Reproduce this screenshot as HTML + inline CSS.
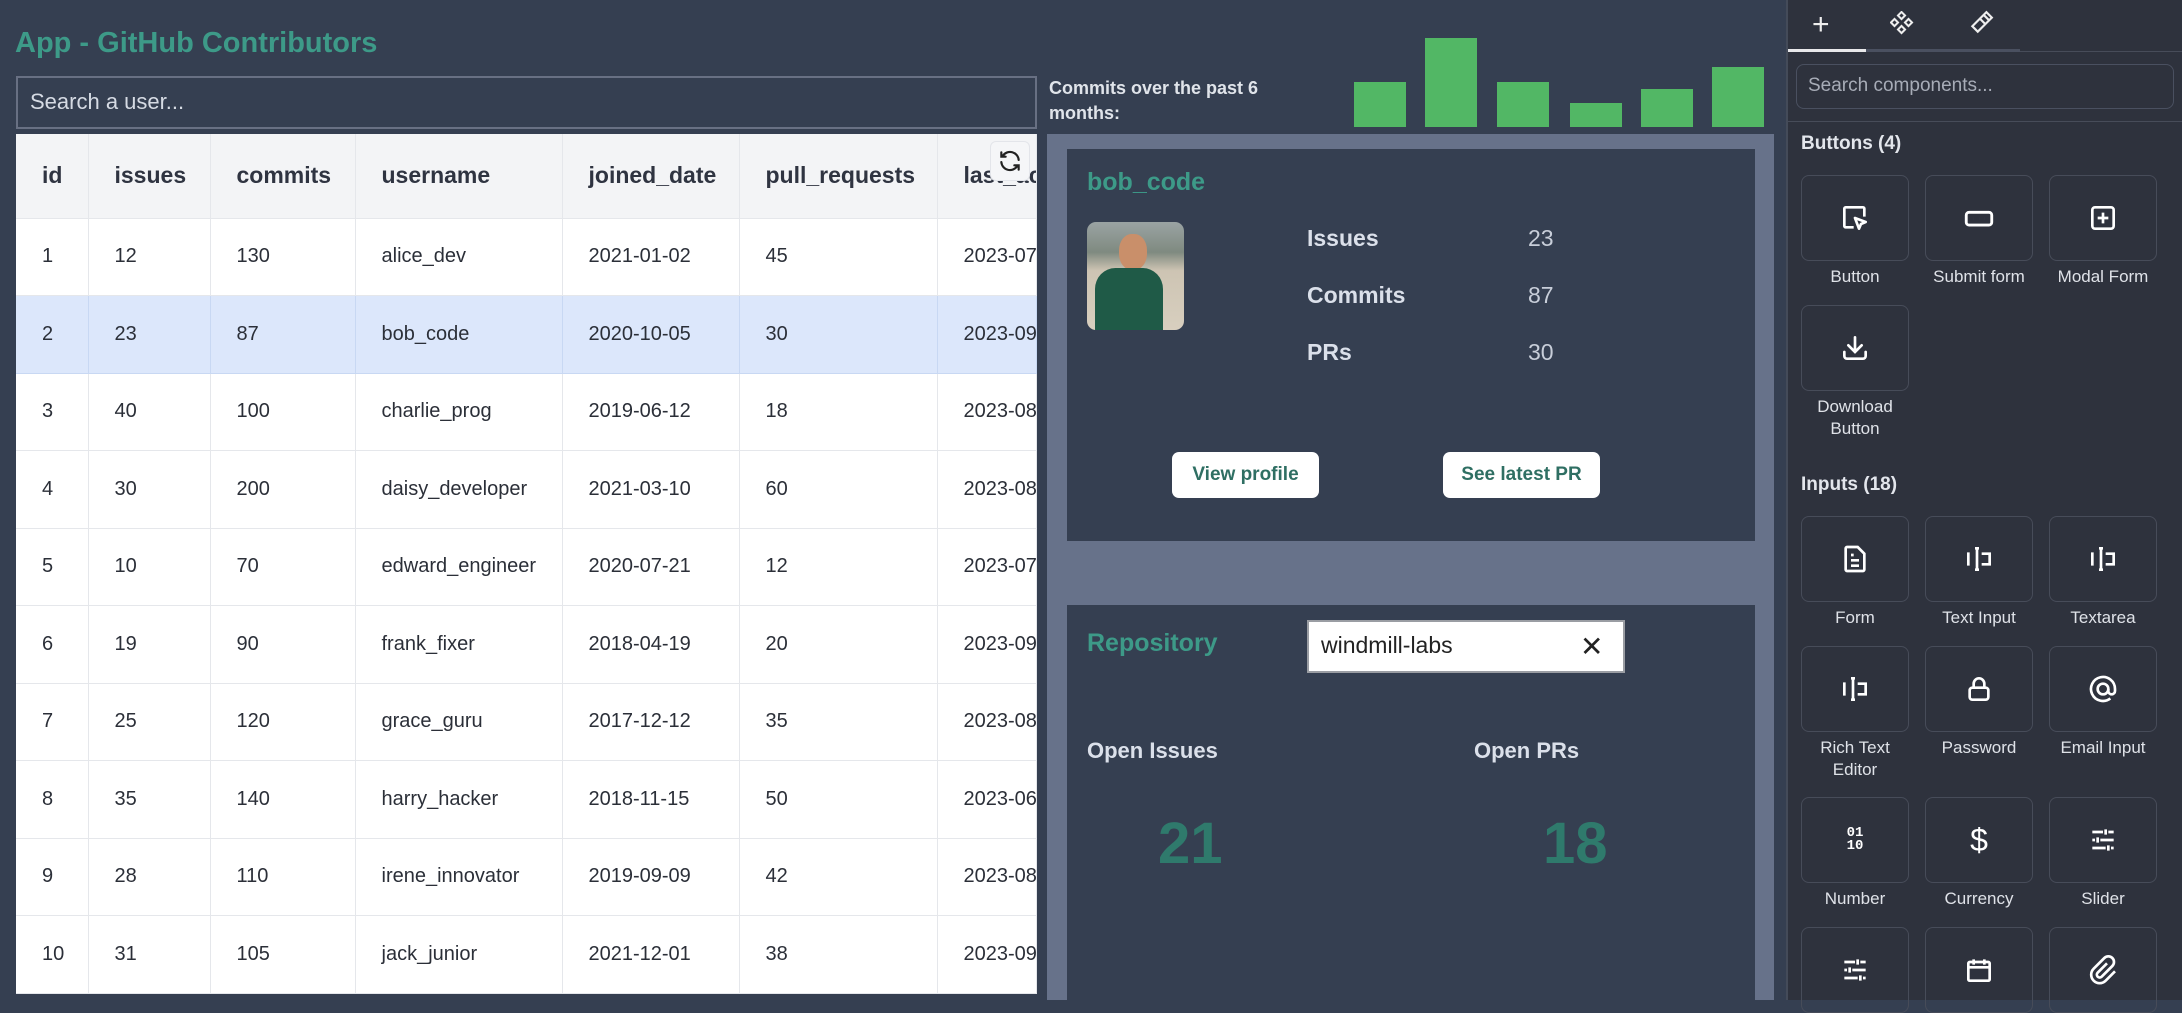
<!DOCTYPE html>
<html><head><meta charset="utf-8"><style>
*{box-sizing:border-box;margin:0;padding:0}
body{width:2182px;height:1000px;overflow:hidden;background:#353f51;font-family:"Liberation Sans",sans-serif;position:relative}
.a{position:absolute;white-space:nowrap}
table{border-collapse:collapse;position:absolute;left:16px;top:134px;width:1020px;background:#fff;table-layout:fixed}
td,th{border-right:1.5px solid #e5e7eb;border-bottom:1.5px solid #e5e7eb;text-align:left;padding-left:26px;color:#2b2f38;font-size:20px;font-weight:normal;overflow:hidden;white-space:nowrap}
th{height:84px;background:#f3f4f6;font-weight:bold;font-size:23px;color:#2f3441}
td{height:77.5px}
tr.sel td{background:#dce7fb;border-right-color:#c8d8f3;border-bottom-color:#c8d8f3}
.bar{position:absolute;background:#52b765;width:52px;bottom:873px}
.lbl{position:absolute;font-size:23px;font-weight:bold;color:#dbe0ea}
.val{position:absolute;font-size:23px;color:#c8ced9}
.btn{position:absolute;background:#fff;border-radius:7px;color:#2f6f63;font-weight:bold;font-size:19px;display:flex;align-items:center;justify-content:center;height:46px;top:452px}
.tile{position:absolute;width:108px;height:86px;border:1.5px solid #474c59;border-radius:8px;display:flex;align-items:center;justify-content:center}
.tl{position:absolute;width:140px;text-align:center;font-size:17px;color:#dfe2e8;line-height:22px}
.sh{position:absolute;left:1801px;font-size:19px;font-weight:bold;color:#e3e6ec}
svg{display:block}
</style></head><body>
<div class="a" style="left:15px;top:27px;font-size:29px;font-weight:bold;color:#3d9a88">App - GitHub Contributors</div>
<div class="a" style="left:16px;top:76px;width:1021px;height:53px;border:2px solid #687083;"></div>
<div class="a" style="left:30px;top:89px;font-size:22px;color:#d6dbe4">Search a user...</div>
<table>
<colgroup><col style="width:72px"><col style="width:122px"><col style="width:145px"><col style="width:207px"><col style="width:177px"><col style="width:198px"><col style="width:99px"></colgroup>
<tr><th style="padding-left:26px">id</th><th>issues</th><th>commits</th><th>username</th><th>joined_date</th><th>pull_requests</th><th>last_ac</th></tr>
<tr><td>1</td><td>12</td><td>130</td><td>alice_dev</td><td>2021-01-02</td><td>45</td><td>2023-07</td></tr>
<tr class="sel"><td>2</td><td>23</td><td>87</td><td>bob_code</td><td>2020-10-05</td><td>30</td><td>2023-09</td></tr>
<tr><td>3</td><td>40</td><td>100</td><td>charlie_prog</td><td>2019-06-12</td><td>18</td><td>2023-08</td></tr>
<tr><td>4</td><td>30</td><td>200</td><td>daisy_developer</td><td>2021-03-10</td><td>60</td><td>2023-08</td></tr>
<tr><td>5</td><td>10</td><td>70</td><td>edward_engineer</td><td>2020-07-21</td><td>12</td><td>2023-07</td></tr>
<tr><td>6</td><td>19</td><td>90</td><td>frank_fixer</td><td>2018-04-19</td><td>20</td><td>2023-09</td></tr>
<tr><td>7</td><td>25</td><td>120</td><td>grace_guru</td><td>2017-12-12</td><td>35</td><td>2023-08</td></tr>
<tr><td>8</td><td>35</td><td>140</td><td>harry_hacker</td><td>2018-11-15</td><td>50</td><td>2023-06</td></tr>
<tr><td>9</td><td>28</td><td>110</td><td>irene_innovator</td><td>2019-09-09</td><td>42</td><td>2023-08</td></tr>
<tr><td>10</td><td>31</td><td>105</td><td>jack_junior</td><td>2021-12-01</td><td>38</td><td>2023-09</td></tr>
</table>
<div class="a" style="left:990px;top:141px;width:40px;height:40px;border:1.5px solid #e3e5ea;border-radius:6px;background:#f5f6f8;display:flex;align-items:center;justify-content:center">
<svg width="26" height="26" viewBox="0 0 24 24" fill="none" stroke="#222" stroke-width="2" stroke-linecap="round"><path d="M20 11a8 8 0 0 0-14.5-4M4 4v4h4"/><path d="M4 13a8 8 0 0 0 14.5 4M20 20v-4h-4"/></svg></div>

<div class="a" style="left:1049px;top:76px;font-size:18px;font-weight:bold;color:#e0e4ea;line-height:25px">Commits over the past 6<br>months:</div>
<div class="bar" style="left:1354px;height:45px"></div>
<div class="bar" style="left:1425px;height:89px"></div>
<div class="bar" style="left:1497px;height:45px"></div>
<div class="bar" style="left:1570px;height:24px"></div>
<div class="bar" style="left:1641px;height:38px"></div>
<div class="bar" style="left:1712px;height:60px"></div>

<div class="a" style="left:1047px;top:134px;width:727px;height:866px;background:#67728a"></div>
<div class="a" style="left:1067px;top:149px;width:688px;height:392px;background:#353f51"></div>
<div class="a" style="left:1087px;top:168px;font-size:25px;font-weight:bold;color:#3d9a88">bob_code</div>
<div class="a" style="left:1087px;top:222px;width:97px;height:108px;border-radius:9px;overflow:hidden;background:linear-gradient(180deg,#9aa3a3 0%,#7f8a80 28%,#cdc4b3 45%,#d8cfbf 100%)">
<div class="a" style="left:32px;top:12px;width:28px;height:36px;border-radius:45%;background:#c98f6a"></div>
<div class="a" style="left:8px;top:46px;width:68px;height:70px;border-radius:30% 30% 0 0;background:#1f5a47"></div>
</div>
<div class="lbl" style="left:1307px;top:225px">Issues</div><div class="val" style="left:1528px;top:225px">23</div>
<div class="lbl" style="left:1307px;top:282px">Commits</div><div class="val" style="left:1528px;top:282px">87</div>
<div class="lbl" style="left:1307px;top:339px">PRs</div><div class="val" style="left:1528px;top:339px">30</div>
<div class="btn" style="left:1172px;width:147px">View profile</div>
<div class="btn" style="left:1443px;width:157px">See latest PR</div>

<div class="a" style="left:1067px;top:605px;width:688px;height:395px;background:#353f51"></div>
<div class="a" style="left:1087px;top:629px;font-size:25px;font-weight:bold;color:#3d9a88">Repository</div>
<div class="a" style="left:1307px;top:620px;width:318px;height:53px;background:#fff;border:2px solid #9a9da3"></div>
<div class="a" style="left:1321px;top:632px;font-size:23px;color:#222">windmill-labs</div>
<div class="a" style="left:1580px;top:630px;font-size:28px;color:#222">✕</div>
<div class="a" style="left:1087px;top:738px;font-size:22px;font-weight:bold;color:#dbe0ea">Open Issues</div>
<div class="a" style="left:1474px;top:738px;font-size:22px;font-weight:bold;color:#dbe0ea">Open PRs</div>
<div class="a" style="left:1158px;top:810px;font-size:58px;font-weight:bold;color:#2f7a6c">21</div>
<div class="a" style="left:1543px;top:810px;font-size:58px;font-weight:bold;color:#2f7a6c">18</div>

<div class="a" style="left:1786px;top:0;width:396px;height:1000px;background:#2e323d;border-left:2px solid #444b59"></div>
<div class="a" style="left:1788px;top:51px;width:394px;height:1px;background:#474c59"></div>
<div class="a" style="left:1788px;top:49px;width:78px;height:3px;background:#e8e8ea"></div>
<div class="a" style="left:1866px;top:49px;width:154px;height:3px;background:#4a5060"></div>
<div class="a" style="left:1812px;top:8px;font-size:30px;color:#eee">+</div>
<svg class="a" style="left:1890px;top:11px" width="24" height="24" viewBox="0 0 24 24" fill="none" stroke="#eee" stroke-width="2"><rect x="9" y="2" width="5" height="5" transform="rotate(45 11.5 4.5)"/><rect x="2" y="9" width="5" height="5" transform="rotate(45 4.5 11.5)"/><rect x="16" y="9" width="5" height="5" transform="rotate(45 18.5 11.5)"/><rect x="9" y="16" width="5" height="5" transform="rotate(45 11.5 18.5)"/></svg>
<svg class="a" style="left:1968px;top:10px" width="26" height="26" viewBox="0 0 24 24" fill="none" stroke="#eee" stroke-width="2"><path d="M14 4l6 6M17 2l5 5-6 6-5-5zM11 8l-7 7 5 5 7-7"/></svg>
<div class="a" style="left:1796px;top:64px;width:378px;height:45px;border:1.5px solid #4a5060;border-radius:8px"></div>
<div class="a" style="left:1808px;top:75px;font-size:19px;color:#a7acb7">Search components...</div>
<div class="a" style="left:1788px;top:121px;width:394px;height:1px;background:#474c59"></div>

<div class="sh" style="top:133px">Buttons (4)</div>
<div class="tile" style="left:1801px;top:175px"><svg width="32" height="32" viewBox="0 0 24 24" fill="none" stroke="#fff" stroke-width="2" stroke-linejoin="round"><path d="M11 19H5a1 1 0 0 1-1-1V5a1 1 0 0 1 1-1h13a1 1 0 0 1 1 1v6"/><path d="M12 12l8 3-3.5 1.5L15 20z"/></svg></div>
<div class="tile" style="left:1925px;top:175px"><svg width="34" height="34" viewBox="0 0 24 24" fill="none" stroke="#fff" stroke-width="2"><rect x="3" y="8" width="18" height="9" rx="2"/><path d="M8 12.5h.01M12 12.5h.01M16 12.5h.01"/></svg></div>
<div class="tile" style="left:2049px;top:175px"><svg width="32" height="32" viewBox="0 0 24 24" fill="none" stroke="#fff" stroke-width="2"><rect x="4" y="4" width="16" height="16" rx="2"/><path d="M12 8v8M8 12h8"/></svg></div>
<div class="tl" style="left:1785px;top:266px">Button</div>
<div class="tl" style="left:1909px;top:266px">Submit form</div>
<div class="tl" style="left:2033px;top:266px">Modal Form</div>
<div class="tile" style="left:1801px;top:305px"><svg width="32" height="32" viewBox="0 0 24 24" fill="none" stroke="#fff" stroke-width="2" stroke-linecap="round"><path d="M4 15v3a2 2 0 0 0 2 2h12a2 2 0 0 0 2-2v-3M12 4v11M7 10l5 5 5-5"/></svg></div>
<div class="tl" style="left:1785px;top:396px">Download<br>Button</div>

<div class="sh" style="top:474px">Inputs (18)</div>
<div class="tile" style="left:1801px;top:516px"><svg width="32" height="32" viewBox="0 0 24 24" fill="none" stroke="#fff" stroke-width="2"><path d="M14 3H6a1 1 0 0 0-1 1v16a1 1 0 0 0 1 1h12a1 1 0 0 0 1-1V8z"/><path d="M9 13h6M9 17h6M9 9h2"/></svg></div>
<div class="tile" style="left:1925px;top:516px"><svg width="32" height="32" viewBox="0 0 24 24" fill="none" stroke="#fff" stroke-width="2"><path d="M5 8h-1v8h1M9 4h3M9 20h3M10.5 4v16M14 8h6v8h-6"/></svg></div>
<div class="tile" style="left:2049px;top:516px"><svg width="32" height="32" viewBox="0 0 24 24" fill="none" stroke="#fff" stroke-width="2"><path d="M5 8h-1v8h1M9 4h3M9 20h3M10.5 4v16M14 8h6v8h-6"/></svg></div>
<div class="tl" style="left:1785px;top:607px">Form</div>
<div class="tl" style="left:1909px;top:607px">Text Input</div>
<div class="tl" style="left:2033px;top:607px">Textarea</div>
<div class="tile" style="left:1801px;top:646px"><svg width="32" height="32" viewBox="0 0 24 24" fill="none" stroke="#fff" stroke-width="2"><path d="M5 8h-1v8h1M9 4h3M9 20h3M10.5 4v16M14 8h6v8h-6"/></svg></div>
<div class="tile" style="left:1925px;top:646px"><svg width="32" height="32" viewBox="0 0 24 24" fill="none" stroke="#fff" stroke-width="2"><rect x="5" y="11" width="14" height="9" rx="2"/><path d="M8 11V8a4 4 0 0 1 8 0v3"/></svg></div>
<div class="tile" style="left:2049px;top:646px"><svg width="32" height="32" viewBox="0 0 24 24" fill="none" stroke="#fff" stroke-width="2"><circle cx="12" cy="12" r="4"/><path d="M16 12v1.5a2.5 2.5 0 0 0 5 0V12a9 9 0 1 0-3.5 7.1"/></svg></div>
<div class="tl" style="left:1785px;top:737px">Rich Text<br>Editor</div>
<div class="tl" style="left:1909px;top:737px">Password</div>
<div class="tl" style="left:2033px;top:737px">Email Input</div>
<div class="tile" style="left:1801px;top:797px"><div style="color:#fff;font-family:'Liberation Mono',monospace;font-weight:bold;font-size:14px;line-height:13px;text-align:center">01<br>10</div></div>
<div class="tile" style="left:1925px;top:797px"><div style="color:#fff;font-size:32px">$</div></div>
<div class="tile" style="left:2049px;top:797px"><svg width="32" height="32" viewBox="0 0 24 24" fill="none" stroke="#fff" stroke-width="2"><path d="M4 6h8M16 6h4M14 4v4M4 12h2M10 12h10M8 10v4M4 18h10M18 18h2M16 16v4"/></svg></div>
<div class="tl" style="left:1785px;top:888px">Number</div>
<div class="tl" style="left:1909px;top:888px">Currency</div>
<div class="tl" style="left:2033px;top:888px">Slider</div>
<div class="tile" style="left:1801px;top:927px"><svg width="32" height="32" viewBox="0 0 24 24" fill="none" stroke="#fff" stroke-width="2"><path d="M4 6h8M16 6h4M14 4v4M4 12h2M10 12h10M8 10v4M4 18h10M18 18h2M16 16v4"/></svg></div>
<div class="tile" style="left:1925px;top:927px"><svg width="32" height="32" viewBox="0 0 24 24" fill="none" stroke="#fff" stroke-width="2"><rect x="4" y="6" width="16" height="14" rx="1"/><path d="M4 10h16M8 4v4M16 4v4"/></svg></div>
<div class="tile" style="left:2049px;top:927px"><svg width="32" height="32" viewBox="0 0 24 24" fill="none" stroke="#fff" stroke-width="2"><path d="M15 7l-7 7a2 2 0 0 0 3 3l8-8a4 4 0 0 0-6-6l-8 8a6 6 0 0 0 9 9l7-7"/></svg></div>
</body></html>
